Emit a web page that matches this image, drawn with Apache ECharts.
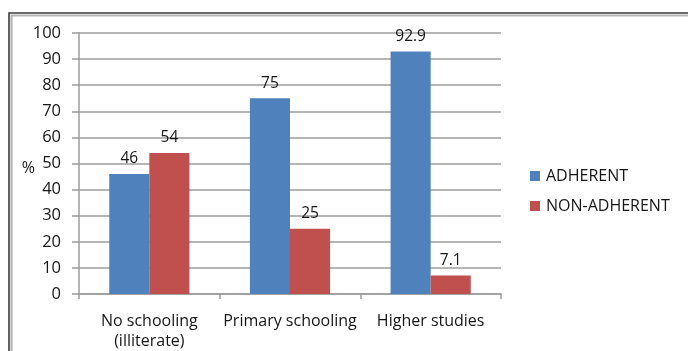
<!DOCTYPE html>
<html>
<head>
<meta charset="utf-8">
<script src="https://cdn.jsdelivr.net/npm/echarts@6/dist/echarts.min.js"></script>
<style>
  html, body { margin: 0; padding: 0; background: #fff; overflow: hidden; }
  #chart { width: 688px; height: 351px; }
</style>
</head>
<body>
<div id="chart"></div>
<script>
// Education level vs. adherence (%)
const categories = ['No schooling\n(illiterate)', 'Primary schooling', 'Higher studies'];
const adherent = [46, 75, 92.9];
const nonAdherent = [54, 25, 7.1];
const seriesNames = ['ADHERENT', 'NON-ADHERENT'];
const yTicks = { min: 0, max: 100, interval: 10 };

const FONT = '"Open Sans", sans-serif';
const TEXT = '#161616';
const GRID = '#9c9c9c';

const chart = echarts.init(document.getElementById('chart'), null, { renderer: 'canvas' });

const labelStyle = {
  show: true,
  position: 'top',
  distance: 7,
  color: TEXT,
  fontFamily: FONT,
  fontSize: 15.5
};

chart.setOption({
  animation: false,
  backgroundColor: '#fff',
  textStyle: { fontFamily: FONT },
  graphic: [
    // outer frame: dark outer line with a light inner band
    { type: 'rect', shape: { x: 9, y: 13, width: 1000, height: 600 },
      style: { fill: 'none', stroke: '#3c3c3c', lineWidth: 1.6 }, silent: true },
    { type: 'rect', shape: { x: 11.5, y: 15.5, width: 1000, height: 600 },
      style: { fill: 'none', stroke: '#b5b5b5', lineWidth: 2.2 }, silent: true }
  ],
  grid: { left: 79, top: 33, right: 187, bottom: 56, containLabel: false },
  legend: {
    orient: 'vertical',
    left: 530,
    top: 168,
    padding: 0,
    itemWidth: 10,
    itemHeight: 10,
    itemGap: 14,
    icon: 'rect',
    data: seriesNames,
    textStyle: { color: TEXT, fontFamily: FONT, fontSize: 16, padding: [0, 0, 0, 1] }
  },
  xAxis: {
    type: 'category',
    data: categories,
    axisLine: { show: true, lineStyle: { color: GRID, width: 1.5 } },
    axisTick: { show: true, length: 5, lineStyle: { color: GRID, width: 1.5 } },
    axisLabel: { interval: 0, color: TEXT, fontFamily: FONT, fontSize: 16, margin: 17, lineHeight: 20 }
  },
  yAxis: {
    type: 'value',
    min: yTicks.min,
    max: yTicks.max,
    interval: yTicks.interval,
    name: '%',
    nameLocation: 'middle',
    nameRotate: 0,
    nameGap: 44,
    nameMoveOverlap: false,
    nameTextStyle: { color: TEXT, fontFamily: FONT, fontSize: 16, verticalAlign: 'top', lineHeight: 10 },
    axisLine: { show: true, lineStyle: { color: GRID, width: 1.5 } },
    axisTick: { show: true, length: 7, lineStyle: { color: GRID, width: 1.5 } },
    axisLabel: { color: TEXT, fontFamily: FONT, fontSize: 16.5, margin: 18 },
    splitLine: { show: true, lineStyle: { color: GRID, width: 1.5 } }
  },
  series: [
    {
      name: seriesNames[0],
      type: 'bar',
      data: adherent,
      barGap: '0%',
      barCategoryGap: '43%',
      itemStyle: { color: '#4F81BD' },
      label: labelStyle
    },
    {
      name: seriesNames[1],
      type: 'bar',
      data: nonAdherent,
      barGap: '0%',
      barCategoryGap: '43%',
      itemStyle: { color: '#C0504D' },
      label: labelStyle
    }
  ]
});
</script>
</body>
</html>
